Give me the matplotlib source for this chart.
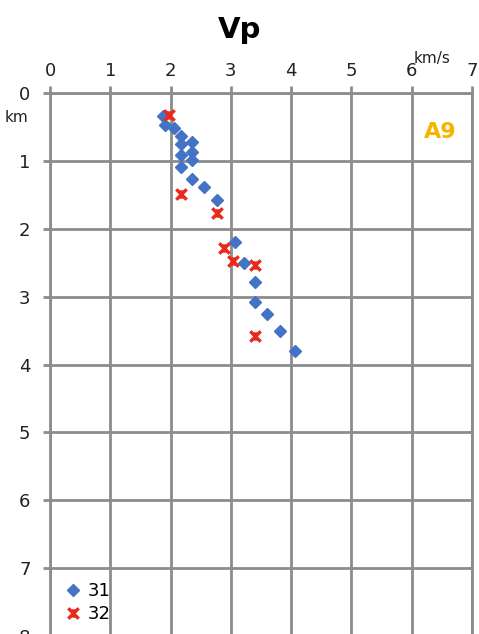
import matplotlib.pyplot as plt
from matplotlib.path import Path

# velocidades (km/s) y profundidades (km)
vp31 = [1.88, 1.91, 2.05, 2.18, 2.35, 2.18, 2.35, 2.18, 2.35, 2.18, 2.35, 2.55, 2.77,
        3.07, 3.22, 3.40, 3.40, 3.60, 3.81, 4.06]
z31 = [0.34, 0.47, 0.52, 0.63, 0.72, 0.75, 0.87, 0.91, 0.99, 1.09, 1.26, 1.39, 1.58,
       2.19, 2.51, 2.78, 3.08, 3.26, 3.51, 3.80]
vp32 = [1.98, 2.18, 2.77, 2.89, 3.04, 3.40, 3.40]
z32 = [0.32, 1.49, 1.77, 2.28, 2.47, 2.53, 3.58]
xticks = [0, 1, 2, 3, 4, 5, 6, 7]
yticks = [0, 1, 2, 3, 4, 5, 6, 7, 8]

gris = "#8c8c8c"
azul = "#4472c4"
rojo = "#e8291c"

# marcador tipo estrella de excel: x con trazo vertical
estrella = Path([(-1, -1), (1, 1), (-1, 1), (1, -1), (0, -0.8), (0, 0.8)],
                [Path.MOVETO, Path.LINETO, Path.MOVETO, Path.LINETO, Path.MOVETO, Path.LINETO])

fig = plt.figure(figsize=(4.79, 6.34), dpi=100)
ax = fig.add_axes([50 / 479, -2 / 634, 422 / 479, 543 / 634])

ax.plot(vp31, z31, linestyle="none", marker="D", markersize=6.5, color=azul, label="31")
ax.plot(vp32, z32, linestyle="none", marker=estrella, markersize=7.5, markeredgewidth=2.4,
        color=rojo, label="32")

ax.set_xlim(0, 7)
ax.set_ylim(8, 0)
ax.set_xticks(xticks)
ax.set_yticks(yticks)
ax.xaxis.tick_top()
ax.grid(True, color=gris, linewidth=2)
ax.set_axisbelow(True)
for s in ax.spines.values():
    s.set_color(gris)
    s.set_linewidth(2)
ax.tick_params(axis="both", colors=gris, length=5, width=2, labelsize=13, labelcolor="#222222")
ax.tick_params(axis="x", pad=4)
ax.tick_params(axis="y", pad=9)

fig.text(0.5, 0.952, "Vp", ha="center", va="center", fontsize=21, fontweight="bold")
fig.text(432 / 479, 1 - 58 / 634, "km/s", ha="center", va="center", fontsize=11, color="#222222")
fig.text(17 / 479, 1 - 117 / 634, "km", ha="center", va="center", fontsize=11, color="#222222")
ax.text(6.75, 0.57, "A9", ha="right", va="center", fontsize=16, fontweight="bold", color="#f5b400")

ax.legend(loc="lower left", bbox_to_anchor=(0.0, 0.0), frameon=False, fontsize=13,
          handletextpad=0.2, borderaxespad=0.3, labelspacing=0.3, handlelength=1.2)

fig.savefig("out.png", dpi=100)
